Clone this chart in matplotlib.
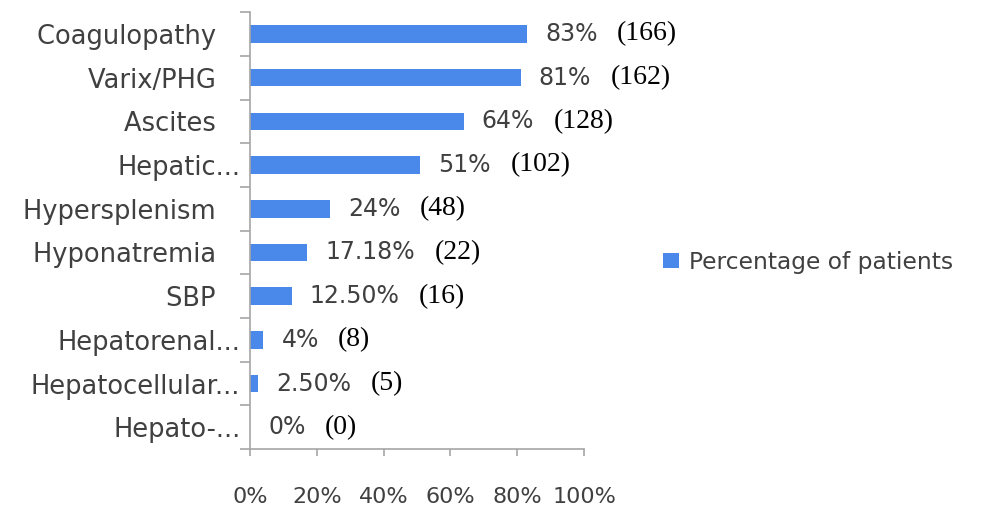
import matplotlib
matplotlib.use("Agg")
import matplotlib.pyplot as plt
import numpy as np

# data, top to bottom as in the chart
categories = ["Coagulopathy   ", "Varix/PHG   ", "Ascites   ", "Hepatic...",
              "Hypersplenism   ", "Hyponatremia   ", "SBP   ",
              "Hepatorenal...", "Hepatocellular...", "Hepato-..."]
percent = [83, 81, 64, 51, 24, 17.18, 12.5, 4, 2.5, 0]
pct_labels = ["83%", "81%", "64%", "51%", "24%", "17.18%", "12.50%", "4%", "2.50%", "0%"]
counts = ["(166)", "(162)", "(128)", "(102)", "(48)", "(22)", "(16)", "(8)", "(5)", "(0)"]
xticks = [0, 20, 40, 60, 80, 100]

bar_color = "#4A88EA"
axis_color = "#A6A6A6"
text_color = "#404040"

plt.rcParams["font.family"] = ["DejaVu Sans"]

fig = plt.figure(figsize=(10, 5.08), dpi=100)
ax = fig.add_axes([0.25, 0.116, 0.334, 0.86])

y = np.arange(len(categories))
ax.barh(y, percent, height=0.4, color=bar_color, label="Percentage of patients")
ax.set_ylim(len(categories) - 0.5, -0.5)
ax.set_xlim(0, 100)

# value labels
for yi, v, lab, cnt in zip(y, percent, pct_labels, counts):
    t = ax.annotate(lab, xy=(v, yi), xytext=(13, 0), textcoords="offset points",
                    va="center", ha="left", fontsize=17, color=text_color)
    ax.annotate(cnt, xy=(1, 0.5), xycoords=t, xytext=(14, 0),
                textcoords="offset points", va="center", ha="left",
                fontsize=20, family="Liberation Serif", color="black")

# axes styling
for s in ["top", "right"]:
    ax.spines[s].set_visible(False)
for s in ["left", "bottom"]:
    ax.spines[s].set_color(axis_color)
    ax.spines[s].set_linewidth(1.2)

ax.set_yticks(y)
ax.set_yticklabels(categories, fontsize=18.5, color=text_color)
ax.set_yticks(np.arange(len(categories) + 1) - 0.5, minor=True)
ax.tick_params(axis="y", which="major", length=0, pad=7)
ax.tick_params(axis="y", which="minor", length=7, color=axis_color, width=1.2)

ax.set_xticks(xticks)
ax.set_xticklabels([f"{v}%" for v in xticks], fontsize=16, color=text_color)
ax.tick_params(axis="x", length=5, color=axis_color, width=1.2, pad=22)

fig.legend(loc="center left", bbox_to_anchor=(0.642, 1 - 262 / 508), frameon=False,
           fontsize=16.8, handlelength=0.7, handleheight=0.6, handletextpad=0.4,
           labelcolor=text_color)

fig.savefig("out.png", dpi=100)
